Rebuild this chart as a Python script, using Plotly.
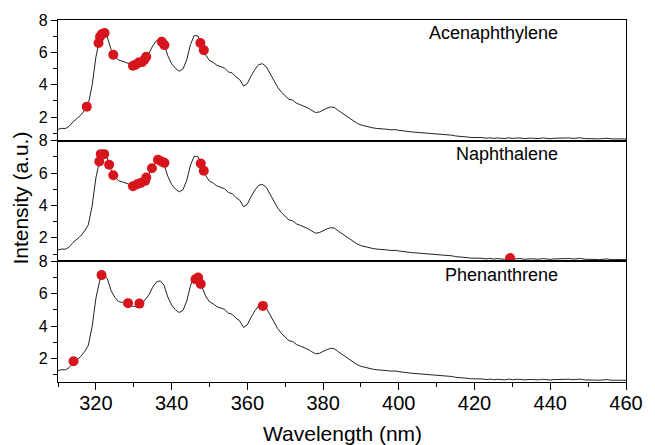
import plotly.graph_objects as go
from plotly.subplots import make_subplots

# Wavelength grid (nm) and emission spectrum (same spectrum shown in all panels)
wavelength = list(range(310, 461))
intensity = [
    1.25, 1.31, 1.30, 1.45, 1.72, 1.95, 2.12, 2.42, 2.80, 3.95,   # 310-319
    5.70, 6.80, 7.18, 6.95, 6.20, 5.78, 5.52, 5.46, 5.36, 5.27,   # 320-329
    5.20, 5.29, 5.40, 5.62, 5.93, 6.40, 6.72, 6.80, 6.52, 5.80,   # 330-339
    5.30, 5.02, 4.84, 4.97, 5.55, 6.50, 7.05, 7.00, 6.45, 5.85,   # 340-349
    5.50, 5.38, 5.20, 5.10, 5.03, 4.80, 4.73, 4.49, 4.32, 3.92,   # 350-359
    4.08, 4.55, 4.95, 5.25, 5.30, 5.12, 4.72, 4.25, 3.85, 3.55,   # 360-369
    3.34, 3.10, 3.05, 2.86, 2.77, 2.68, 2.57, 2.42, 2.29, 2.32,   # 370-379
    2.45, 2.55, 2.63, 2.60, 2.42, 2.25, 2.08, 1.92, 1.78, 1.62,   # 380-389
    1.52, 1.45, 1.41, 1.35, 1.31, 1.30, 1.25, 1.25, 1.22, 1.23,   # 390-399
    1.19, 1.15, 1.13, 1.10, 1.08, 1.06, 1.06, 1.02, 1.04, 1.00,   # 400-409
    0.97, 0.96, 0.93, 0.90, 0.89, 0.84, 0.83, 0.80, 0.78, 0.75,   # 410-419
    0.75, 0.72, 0.74, 0.70, 0.73, 0.69, 0.72, 0.70, 0.68, 0.73,   # 420-429
    0.69, 0.71, 0.72, 0.68, 0.71, 0.71, 0.69, 0.68, 0.72, 0.70,   # 430-439
    0.67, 0.70, 0.71, 0.68, 0.70, 0.72, 0.69, 0.70, 0.73, 0.68,   # 440-449
    0.67, 0.70, 0.69, 0.66, 0.68, 0.70, 0.66, 0.67, 0.65, 0.66,   # 450-459
    0.65,                                                         # 460
]

panel_names = ["Acenaphthylene", "Naphthalene", "Phenanthrene"]

# Highlighted points (red dots) per panel
ace_x = [317.6, 320.7, 321.1, 321.6, 322.3, 324.6, 329.8, 330.4, 331.3, 332.2, 332.8, 333.3, 337.4, 338.1, 347.6, 348.5]
ace_y = [2.65, 6.58, 6.97, 7.14, 7.20, 5.85, 5.18, 5.22, 5.37, 5.40, 5.55, 5.73, 6.66, 6.45, 6.58, 6.14]

nap_x = [320.9, 321.3, 322.2, 323.5, 324.6, 329.8, 330.9, 331.8, 333.0, 333.3, 334.8, 336.4, 337.3, 338.1, 347.7, 348.5, 429.4]
nap_y = [6.71, 7.17, 7.17, 6.51, 5.87, 5.19, 5.31, 5.38, 5.52, 5.72, 6.30, 6.82, 6.71, 6.63, 6.59, 6.14, 0.75]

phe_x = [314.1, 321.5, 328.5, 331.5, 346.3, 347.0, 347.7, 364.1]
phe_y = [1.83, 7.15, 5.42, 5.39, 6.90, 7.00, 6.60, 5.25]

dots = [(ace_x, ace_y), (nap_x, nap_y), (phe_x, phe_y)]

FONT = "Liberation Sans, Arial, sans-serif"
RED = "#d7151c"

fig = make_subplots(rows=3, cols=1, shared_xaxes=True, vertical_spacing=0)

for i in range(3):
    r = i + 1
    fig.add_trace(go.Scatter(x=wavelength, y=intensity, mode="lines",
                             line=dict(color="#222222", width=1),
                             showlegend=False, hoverinfo="skip"), row=r, col=1)
    dx, dy = dots[i]
    fig.add_trace(go.Scatter(x=dx, y=dy, mode="markers",
                             marker=dict(color=RED, size=10, line=dict(width=0)),
                             showlegend=False), row=r, col=1)
    fig.update_yaxes(range=[0.55, 8.001], tick0=0, dtick=2,
                     ticks="outside", ticklen=6, tickwidth=1.2, tickcolor="black",
                     minor=dict(ticks="outside", ticklen=3.5, dtick=1, tick0=0, tickcolor="black", tickwidth=1.2),
                     showline=True, linecolor="black", linewidth=1.3, mirror=True,
                     showgrid=False, zeroline=False,
                     tickfont=dict(family=FONT, size=16, color="black"),
                     row=r, col=1)
    fig.update_xaxes(range=[310, 460], showline=True, linecolor="black", linewidth=1.3,
                     mirror=True, showgrid=False, zeroline=False, row=r, col=1)
    fig.add_annotation(x=[425, 428.5, 427][i], y=[7.22, 7.19, 7.17][i],
                       xref=f"x{'' if r == 1 else r}", yref=f"y{'' if r == 1 else r}",
                       text=panel_names[i], showarrow=False,
                       xanchor="center", yanchor="middle",
                       font=dict(family=FONT, size=18, color="black"))

fig.update_xaxes(ticks="", showticklabels=False, row=1, col=1)
fig.update_xaxes(ticks="", showticklabels=False, row=2, col=1)
fig.update_xaxes(tick0=0, dtick=20, ticks="outside", ticklen=7, tickwidth=1.2, tickcolor="black",
                 minor=dict(ticks="outside", ticklen=4, dtick=10, tick0=0, tickcolor="black", tickwidth=1.2),
                 showticklabels=True, ticklabelstandoff=-4,
                 tickfont=dict(family=FONT, size=20, color="black"), row=3, col=1)

fig.add_annotation(xref="paper", yref="paper", x=-0.066, y=0.508,
                   text="Intensity (a.u.)", textangle=-90, showarrow=False,
                   xanchor="center", yanchor="middle",
                   font=dict(family=FONT, size=21, color="black"))
fig.add_annotation(xref="paper", yref="paper", x=0.5, y=-0.141,
                   text="Wavelength (nm)", showarrow=False,
                   xanchor="center", yanchor="middle",
                   font=dict(family=FONT, size=21, color="black"))

fig.update_layout(width=655, height=445,
                  margin=dict(l=58, r=21, t=20, b=63),
                  plot_bgcolor="white", paper_bgcolor="white",
                  font=dict(family=FONT, color="black"))

fig.write_html("out.html")
